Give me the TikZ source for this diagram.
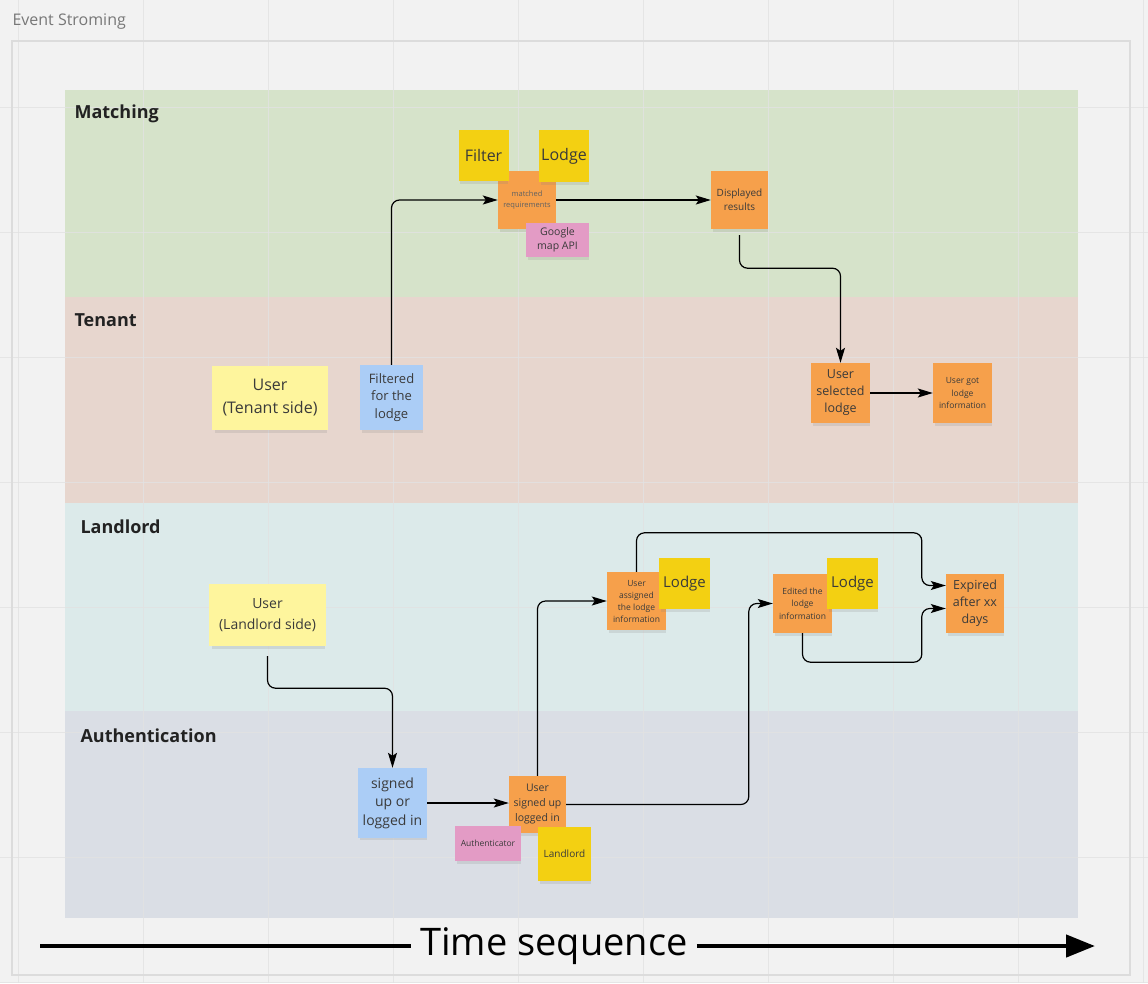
\documentclass[tikz,border=0pt]{standalone}
\usepackage{fontspec}
\setmainfont{Open Sans}
\usetikzlibrary{arrows.meta,shadows}
\definecolor{bgc}{HTML}{F2F2F2}
\definecolor{gridc}{HTML}{E2E2E2}
\definecolor{framec}{HTML}{DCDCDC}
\definecolor{matchc}{HTML}{D6E3CA}
\definecolor{tenantc}{HTML}{E7D6CE}
\definecolor{landc}{HTML}{DCEAEA}
\definecolor{authc}{HTML}{DADEE5}
\definecolor{orangec}{HTML}{F6A04B}
\definecolor{yellowc}{HTML}{F3D012}
\definecolor{lyellowc}{HTML}{FEF59D}
\definecolor{bluec}{HTML}{ABCDF6}
\definecolor{pinkc}{HTML}{E39BC5}
\definecolor{txtc}{HTML}{3A3A3A}
\definecolor{titlec}{HTML}{777777}
\definecolor{lanetxt}{HTML}{222222}
\tikzset{
  sticky/.style={inner sep=1pt, align=center, text=txtc,
    drop shadow={opacity=0.18, shadow xshift=1pt, shadow yshift=-4pt, shadow scale=0.96}},
  ev/.style={sticky, fill=orangec},
  ent/.style={sticky, fill=yellowc},
  actor/.style={sticky, fill=lyellowc},
  cmd/.style={sticky, fill=bluec},
  ext/.style={sticky, fill=pinkc},
  lane/.style={anchor=west, font=\bfseries\fontsize{18}{22}\selectfont, text=lanetxt},
  conn/.style={draw=black, line width=1.2pt, rounded corners=8pt,
    -{Stealth[length=15pt,width=9pt,inset=3pt]}},
}
\begin{document}
\begin{tikzpicture}[x=1pt,y=-1pt]
\useasboundingbox (0,0) rectangle (1148,983);
\fill[bgc] (0,0) rectangle (1148,983);
% lanes
\fill[matchc] (65,90) rectangle (1078,297);
\fill[tenantc] (65,297) rectangle (1078,503);
\fill[landc] (65,503) rectangle (1078,711);
\fill[authc] (65,711) rectangle (1078,918);
% grid
\foreach \x in {18,143,...,1143} \draw[gridc, opacity=0.8, line width=0.8pt] (\x,0) -- (\x,983);
\foreach \y in {107,232,...,982} \draw[gridc, opacity=0.8, line width=0.8pt] (0,\y) -- (1148,\y);
% frame
\draw[framec, line width=1.2pt] (12,41) rectangle (1130,975);
\node[anchor=west, text=titlec, font=\fontsize{16}{20}\selectfont] (title) at (9,22) {Event Stroming};
% lane labels
\node[lane] (lm) at (71,114) {Matching};
\node[lane] (lt) at (71,320) {Tenant};
\node[lane] (ll) at (77,527) {Landlord};
\node[lane] (la) at (77,736) {Authentication};
% Matching
\node[ev, minimum width=58, minimum height=58, text=txtc!80, font=\fontsize{7.5}{10.5}\selectfont] (mr) at (527,200) {matched\\requirements};
\node[ent, minimum width=50, minimum height=51, font=\fontsize{16}{20}\selectfont] (filter) at (483.5,155.5) {Filter};
\node[ent, minimum width=50, minimum height=52, font=\fontsize{16}{20}\selectfont] (lodgeA) at (564,156) {Lodge};
\node[ext, minimum width=63, minimum height=34, font=\fontsize{10.5}{13.5}\selectfont] (gm) at (557.5,240) {Google\\map API};
\node[ev, minimum width=57, minimum height=58, font=\fontsize{10}{14}\selectfont] (dr) at (739.5,200) {Displayed\\results};
% Tenant
\node[actor, minimum width=116, minimum height=64, font=\fontsize{16}{23}\selectfont] (ut) at (270,398) {User\\(Tenant side)};
\node[cmd, minimum width=63, minimum height=65, font=\fontsize{13}{17.5}\selectfont] (fl) at (391.5,397.5) {Filtered\\for the\\lodge};
\node[ev, minimum width=59, minimum height=60, font=\fontsize{12.5}{17}\selectfont] (us) at (840.5,393) {User\\selected\\lodge};
\node[ev, minimum width=59, minimum height=60, font=\fontsize{8.5}{12.5}\selectfont] (ug) at (962.5,393) {User got\\lodge\\information};
% Landlord
\node[actor, minimum width=117, minimum height=62, font=\fontsize{14}{21}\selectfont] (ul) at (267.5,615) {User\\(Landlord side)};
\node[ev, minimum width=59, minimum height=58, font=\fontsize{8.5}{12}\selectfont] (ua) at (636.5,601) {User\\assigned\\the lodge\\information};
\node[ent, minimum width=51, minimum height=51, font=\fontsize{15}{19}\selectfont] (lodgeB) at (684.5,583.5) {Lodge};
\node[ev, minimum width=59, minimum height=59, font=\fontsize{8.5}{12.5}\selectfont] (ed) at (802.5,603.5) {Edited the\\lodge\\information};
\node[ent, minimum width=51, minimum height=51, font=\fontsize{15}{19}\selectfont] (lodgeC) at (852.5,583.5) {Lodge};
\node[ev, minimum width=58, minimum height=59, font=\fontsize{12.5}{17}\selectfont] (ex) at (975,603.5) {Expired\\after xx\\days};
% Authentication
\node[cmd, minimum width=69, minimum height=70, font=\fontsize{14}{18.5}\selectfont] (su) at (392.5,803) {signed\\up or\\logged in};
\node[ev, minimum width=57, minimum height=57, font=\fontsize{10.5}{15}\selectfont] (usl) at (537.5,804.5) {User\\signed up\\logged in};
\node[ext, minimum width=66, minimum height=35, font=\fontsize{8.5}{11}\selectfont] (au) at (488,843.5) {Authenticator};
\node[ent, minimum width=53, minimum height=54, font=\fontsize{10}{13}\selectfont] (llord) at (564.5,854) {Landlord};
% connectors
\draw[conn] (fl.north) |- (mr.west);
\draw[conn] (mr.east) -- (dr.west);
\draw[conn] ([yshift=-6pt]dr.south) -- ++(0,33) -| (us.north);
\draw[conn] (us.east) -- (ug.west);
\draw[conn] ([yshift=-10pt]ul.south) -- ++(0,32) -| (su.north);
\draw[conn] (su.east) -- (su.east -| usl.west);
\draw[conn] (usl.north) |- (ua.west);
\draw[conn] (usl.east) -| ([xshift=-24pt]ed.west) -- (ed.west);
\draw[conn] (ua.north) -- ++(0,-39) -| ([xshift=-24pt,yshift=18pt]ex.west) -- ([yshift=18pt]ex.west);
\draw[conn] (ed.south) -- ++(0,29) -| ([xshift=-24pt,yshift=-5pt]ex.west) -- ([yshift=-5pt]ex.west);
% time sequence
\node[font=\fontsize{38}{44}\selectfont, text=black, inner sep=9pt] (ts) at (554,946) {Time sequence};
\coordinate (tsl) at (40,946);
\coordinate (tsr) at (1095,946);
\draw[line width=4.5pt] (tsl) -- (tsl -| ts.west);
\draw[line width=4.5pt, -{Triangle[length=29pt,width=22pt]}] (tsr -| ts.east) -- (tsr);
\end{tikzpicture}
\end{document}
